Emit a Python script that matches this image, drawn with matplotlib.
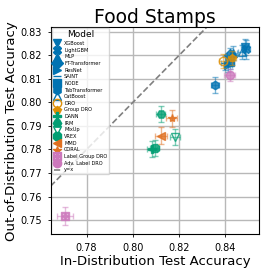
import matplotlib
matplotlib.use("Agg")
from matplotlib import pyplot as plt

# model names, markers, colours
models = ["XGBoost", "LightGBM", "MLP", "FT-Transformer", "ResNet", "SAINT",
          "NODE", "TabTransformer", "CatBoost", "DRO", "Group DRO", "DANN",
          "IRM", "MixUp", "VREX", "MMD", "CORAL", "Label Group DRO",
          "Adv. Label DRO"]
markers = ["v", "X", "^", "D", ">", "_", "s", "h", "^", "o", "p", "P",
           "H", "v", "8", "<", "*", r"$\boxplus$", "o"]
hollow = ["CatBoost", "DRO", "MixUp"]
colors = ["#0173b2"] * 9 + ["#de8f05"] * 2 + ["#029e73"] * 4 + \
         ["#e07020"] * 2 + ["#cc78bc"] * 2

# in-distribution / out-of-distribution accuracy and error bars
id_acc = [0.8485, 0.8490, 0.8435, 0.8421, 0.8413, 0.8399, 0.8421, 0.8356,
          0.8470, 0.8389, 0.8428, 0.8081, 0.8120, 0.8182, 0.8095, 0.8122,
          0.8168, 0.7706, 0.8418]
ood_acc = [0.8236, 0.8225, 0.8209, 0.8201, 0.8159, 0.8166, 0.8173, 0.8074,
           0.8215, 0.8176, 0.8187, 0.7802, 0.7951, 0.7854, 0.7806, 0.7859,
           0.7932, 0.7518, 0.8116]
id_err = [0.0016, 0.0016, 0.0016, 0.0016, 0.0016, 0.0016, 0.0016, 0.0018,
          0.0016, 0.0018, 0.0018, 0.0022, 0.0020, 0.0020, 0.0020, 0.0025,
          0.0025, 0.0036, 0.0022]
ood_err = [0.0035, 0.0040, 0.0030, 0.0030, 0.0030, 0.0030, 0.0030, 0.0033,
           0.0030, 0.0030, 0.0030, 0.0035, 0.0035, 0.0035, 0.0035, 0.0035,
           0.0035, 0.0038, 0.0025]

fig = plt.figure(figsize=(2.66, 2.73), dpi=100)
ax = fig.add_axes([0.19, 0.142, 0.785, 0.758])

for i, name in enumerate(models):
    face = "none" if name in hollow else colors[i]
    ax.errorbar(id_acc[i], ood_acc[i], xerr=id_err[i], yerr=ood_err[i],
                fmt="none", ecolor=colors[i], alpha=0.5, capsize=2,
                elinewidth=1)
    ax.plot(id_acc[i], ood_acc[i], linestyle="none", marker=markers[i],
            markersize=6, color=colors[i], markerfacecolor=face,
            alpha=0.8, label=name)

ax.axline((0.75, 0.75), (0.85, 0.85), color="grey", linestyle="--",
          linewidth=1.2, label="y=x")

ax.set_xlim(0.7644, 0.8547)
ax.set_ylim(0.7440, 0.8319)
ax.set_xticks([0.78, 0.80, 0.82, 0.84])
ax.set_yticks([0.75, 0.76, 0.77, 0.78, 0.79, 0.80, 0.81, 0.82, 0.83])
ax.tick_params(labelsize=7, length=2.5, width=0.6)
ax.grid(True, color="#b8b8b8", linewidth=1)
ax.set_axisbelow(True)

ax.set_title("Food Stamps", fontsize=13.5, pad=2)
ax.set_xlabel("In-Distribution Test Accuracy", fontsize=9.5, labelpad=2)
ax.set_ylabel("Out-of-Distribution Test Accuracy", fontsize=9.5, labelpad=2)

leg = ax.legend(loc="upper left", title="Model", fontsize=3.6,
                title_fontsize=6.5, markerscale=1.0, labelspacing=0.33,
                handlelength=1.5, handletextpad=0.6, borderpad=0.4,
                borderaxespad=0.2, framealpha=0.8)
for h in leg.legend_handles:
    h.set_alpha(1)

fig.savefig("out.png", dpi=100)
